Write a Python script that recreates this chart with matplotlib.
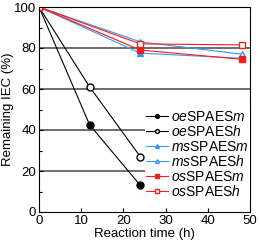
import matplotlib
matplotlib.use("Agg")
import matplotlib.pyplot as plt
from matplotlib.ticker import MultipleLocator

plt.rcParams['font.family'] = ['Liberation Sans', 'DejaVu Sans']
plt.rcParams['mathtext.fontset'] = 'custom'
plt.rcParams['mathtext.rm'] = 'Liberation Sans'
plt.rcParams['mathtext.it'] = 'Liberation Sans:italic'

# data
t_oe = [0, 12, 24]
oe_m = [100, 42.5, 13]
oe_h = [100, 61, 27]
t_long = [0, 24, 48]
ms_m = [100, 77.5, 75]
ms_h = [100, 83, 77]
os_m = [100, 79, 74.5]
os_h = [100, 82, 81.5]

labels = [r'$\it{oe}$SPAES$\it{m}$', r'$\it{oe}$SPAES$\it{h}$',
          r'$\it{ms}$SPAES$\it{m}$', r'$\it{ms}$SPAES$\it{h}$',
          r'$\it{os}$SPAES$\it{m}$', r'$\it{os}$SPAES$\it{h}$']

black = 'black'
blue = '#3399ff'
red = '#ff1a1a'

fig = plt.figure(figsize=(2.6, 2.44), dpi=100)
ax = fig.add_axes([39 / 260, 1 - 212 / 244, 211 / 260, 205 / 244])

ax.set_xlim(0, 50)
ax.set_ylim(0, 100)
for y in [20, 40, 60, 80]:
    ax.axhline(y, color='#555555', lw=1.2, zorder=0)

ms = 5
ax.plot(t_oe, oe_m, '-o', color=black, mfc=black, lw=0.8, ms=ms, label=labels[0])
ax.plot(t_oe, oe_h, '-o', color=black, mfc='white', lw=0.8, ms=ms, label=labels[1])
ax.plot(t_long, ms_m, '-^', color=blue, mfc=blue, lw=0.8, ms=ms, label=labels[2])
ax.plot(t_long, ms_h, '-^', color=blue, mfc='white', lw=0.8, ms=ms, label=labels[3])
ax.plot(t_long, os_m, '-s', color=red, mfc=red, lw=0.8, ms=ms, label=labels[4])
ax.plot(t_long, os_h, '-s', color=red, mfc='white', lw=0.8, ms=ms, label=labels[5])

ax.xaxis.set_major_locator(MultipleLocator(10))
ax.yaxis.set_major_locator(MultipleLocator(20))
ax.yaxis.set_minor_locator(MultipleLocator(10))
ax.tick_params(direction='in', labelsize=9.5, length=3, width=0.8, pad=2)
ax.tick_params(which='minor', direction='in', length=2, width=0.8)
for s in ax.spines.values():
    s.set_linewidth(0.8)

ax.set_xlabel('Reaction time (h)', fontsize=9.5, labelpad=1)
ax.set_ylabel('Remaining IEC (%)', fontsize=9.5, labelpad=0)

leg = ax.legend(loc='lower right', bbox_to_anchor=(1.0, 0.055), fontsize=10,
                frameon=True, framealpha=1, edgecolor='none',
                handlelength=1.6, handletextpad=0.2, labelspacing=0.04,
                borderpad=0.1, borderaxespad=0.0, markerscale=0.55,
                fancybox=False)

fig.savefig('out.png', dpi=100)
